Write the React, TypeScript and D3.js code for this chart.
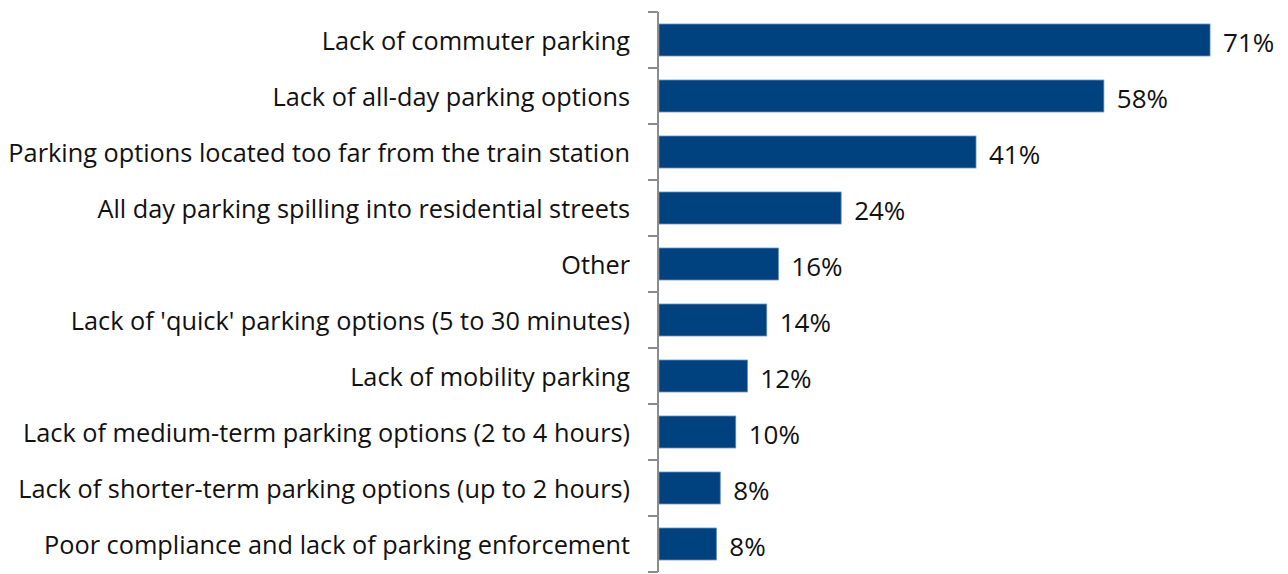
import React from "react";
import * as d3 from "d3";

const categories = [
  "Lack of commuter parking",
  "Lack of all-day parking options",
  "Parking options located too far from the train station",
  "All day parking spilling into residential streets",
  "Other",
  "Lack of 'quick' parking options (5 to 30 minutes)",
  "Lack of mobility parking",
  "Lack of medium-term parking options (2 to 4 hours)",
  "Lack of shorter-term parking options (up to 2 hours)",
  "Poor compliance and lack of parking enforcement",
];
const values = [71.1, 57.4, 40.9, 23.5, 15.4, 13.9, 11.4, 9.9, 7.9, 7.4];
const valueLabels = ["71%", "58%", "41%", "24%", "16%", "14%", "12%", "10%", "8%", "8%"];

const W = 1288;
const H = 574;
const axisX = 658;
const top = 12;
const bottom = 572;

export default function App() {
  const y = d3.scaleBand<string>().domain(categories).range([top, bottom]).paddingInner(0.43).paddingOuter(0.215);
  const band = (bottom - top) / categories.length;
  const x = d3.scaleLinear().domain([0, 80]).range([axisX + 1, axisX + 1 + 620]);
  const font = "'Open Sans', 'Noto Sans', sans-serif";
  return (
    <div style={{ position: "absolute", left: 0, top: 0 }}>
      <svg width={W} height={H} style={{ display: "block" }} fontFamily={font}>
        <rect width={W} height={H} fill="#fff" />
        {categories.map((c, i) => (
          <g key={c}>
            <rect
              x={x(0)}
              y={y(c)!}
              width={x(values[i]) - x(0)}
              height={y.bandwidth()}
              fill="#00417f"
              stroke="#5f86b4"
              strokeWidth={0.8}
            />
            <text
              x={630}
              y={y(c)! + y.bandwidth() / 2}
              dy="0.38em"
              textAnchor="end"
              fontSize={25.3}
              fill="#111"
            >
              {c}
            </text>
            <text
              x={x(values[i]) + 13}
              y={y(c)! + y.bandwidth() / 2 + 3}
              dy="0.35em"
              fontSize={26}
              fill="#111"
            >
              {valueLabels[i]}
            </text>
          </g>
        ))}
        <line x1={axisX} x2={axisX} y1={top} y2={bottom} stroke="#8c8c8c" strokeWidth={2} />
        {d3.range(categories.length + 1).map((k) => (
          <line
            key={k}
            x1={axisX - 10}
            x2={axisX}
            y1={top + k * band}
            y2={top + k * band}
            stroke="#8c8c8c"
            strokeWidth={2}
          />
        ))}
      </svg>
    </div>
  );
}
